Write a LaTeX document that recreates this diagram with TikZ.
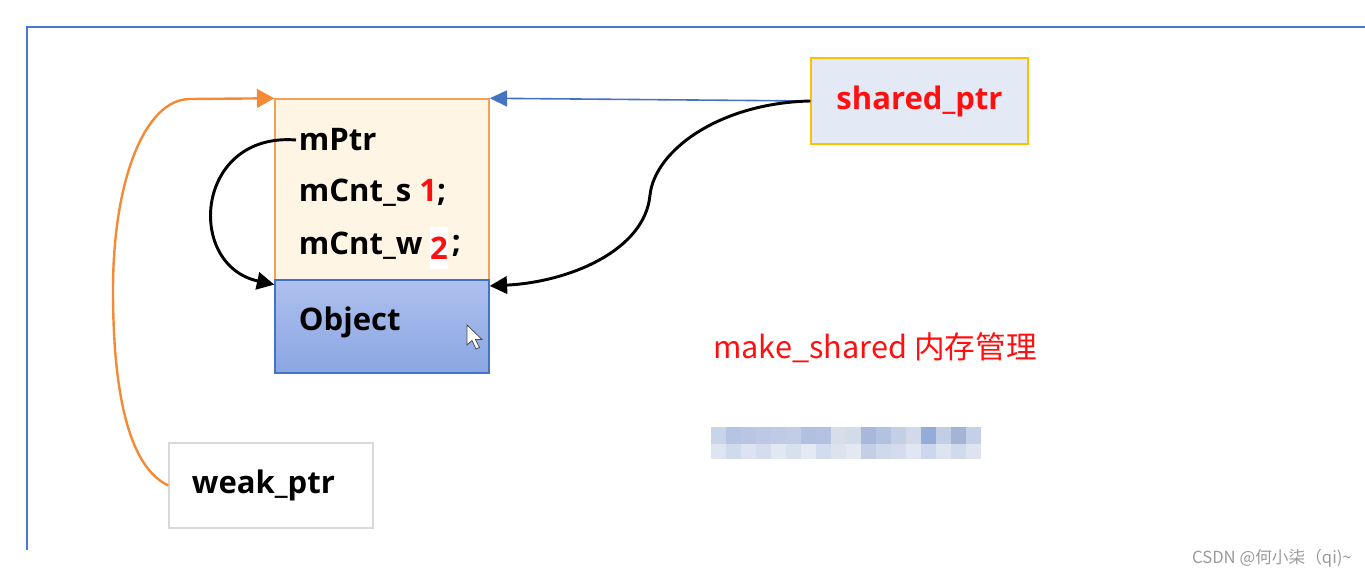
\documentclass[tikz,border=0pt]{standalone}
\usepackage{fontspec}
\setmainfont{Open Sans}
\newfontfamily\cjk{Noto Sans CJK SC}
\usetikzlibrary{arrows.meta}
\definecolor{frameblue}{HTML}{4A78D0}
\definecolor{arrblue}{HTML}{4472C4}
\definecolor{orng}{HTML}{F58A36}
\definecolor{ctrlfill}{HTML}{FFF5E5}
\definecolor{ctrldraw}{HTML}{F5A055}
\definecolor{objtop}{HTML}{AEC0EE}
\definecolor{objbot}{HTML}{8AA6E2}
\definecolor{shfill}{HTML}{E4EAF5}
\definecolor{shdraw}{HTML}{FFC000}
\definecolor{txtred}{HTML}{FF1010}
\definecolor{weakdraw}{HTML}{D9D9D9}
\definecolor{wmgray}{HTML}{9A9A9A}
\tikzset{
  boxbase/.style={draw, line width=1.1pt, inner sep=0pt},
  lbl/.style={font=\bfseries\fontsize{23.3}{28}\selectfont, inner sep=2pt, anchor=west},
  blackarr/.style={draw=black, line width=2.2pt, -{Triangle[length=13pt,width=13pt]}}
}
\begin{document}
\begin{tikzpicture}[x=0.75pt,y=-0.75pt]
\useasboundingbox (0,0) rectangle (1365,578);
% frame
\draw[frameblue, line width=1.6pt] (27,550) -- (27,27) -- (1365,27);
% control block
\node[boxbase, draw=ctrldraw, fill=ctrlfill, minimum width=160.5pt, minimum height=135.75pt] (ctrl) at (382,189.5) {};
\node[boxbase, draw=arrblue, top color=objtop, bottom color=objbot, minimum width=160.5pt, minimum height=69.75pt] (obj) at (382,326.5) {};
\node[lbl] (mptr) at (296,140) {mPtr};
\node[lbl] (mcnts) at (296,193) {mCnt\_s \textcolor{txtred}{1};};
\node[lbl] (mcntw) at (296,246) {mCnt\_w};
\node[fill=white, minimum width=14pt, minimum height=31pt, inner sep=0pt, text=txtred, font=\bfseries\fontsize{23.3}{28}\selectfont] (two) at (439,248) {2};
\node[lbl] (semi) at (449,246) {;};
\node[lbl] (objlbl) at (296,322) {Object};
% cursor
\filldraw[fill=white, draw=black!70, line width=0.6pt] (467,325) -- (467,345) -- (472,340.5) -- (476,349) -- (479.5,347.5) -- (475.5,339.5) -- (482,339.5) -- cycle;
% shared_ptr
\node[boxbase, draw=shdraw, fill=shfill, minimum width=162.75pt, minimum height=64.5pt, text=txtred, font=\bfseries\fontsize{23.3}{28}\selectfont] (shared) at (919.5,101) {shared\_ptr};
% weak_ptr
\node[boxbase, draw=weakdraw, fill=white, minimum width=153pt, minimum height=63.75pt] (weak) at (271,485.5) {};
\node[lbl] (weaklbl) at (189,485) {weak\_ptr};
% caption
\node[text=txtred, font=\cjk\fontsize{23}{28}\selectfont, anchor=west, inner sep=0pt] (cap) at (713,348) {make\_shared 内存管理};
% mosaic
\foreach \c [count=\i from 0] in {C8D4E8,B4C4E2,B8C6E4,BCC8E6,BFCBE6,C2CCE6,B0C0E0,B4C2E2,D8DEE9,D2DBE9,A8B8DA,B4C2E2,C4CFE6,D2D9E9,94ACD8,C2CDE6,A4B4D4,C4D0E6}{
  \definecolor{mc}{HTML}{\c}
  \fill[mc] (711+15*\i,427) rectangle (726+15*\i,444);
}
\foreach \c [count=\i from 0] in {DFE5F0,D0DAEA,DDE3F0,D4DCEE,E2E8F2,D8E0EE,E4E9F2,D2DCEE,DCE2EE,E4E8F0,C4CEE6,D0D9EC,D4DCEE,E0E6F2,CCD6EC,DDE4F0,D0DAEC,DDE4F0}{
  \definecolor{mc}{HTML}{\c}
  \fill[mc] (711+15*\i,444) rectangle (726+15*\i,459);
}
% watermark
\node[text=wmgray, font=\cjk\fontsize{12.5}{15}\selectfont, anchor=east, inner sep=0pt] (wm) at (1352,558) {CSDN @何小柒（qi)\textasciitilde};
% connectors
\draw[arrblue, line width=1.2pt, -{Triangle[length=13pt,width=12pt]}] (shared.west) -- (ctrl.north east);
\draw[blackarr] (shared.west) .. controls (720,103) and (655,150) .. (650,195) .. controls (645,250) and (570,282) .. ([yshift=-5pt]obj.north east);
\draw[blackarr] (mptr.west) .. controls (195,132) and (185,265) .. ([yshift=-4pt]obj.north west);
\draw[orng, line width=1.8pt, -{Triangle[length=13pt,width=14pt]}] (weak.west) .. controls (125,465) and (113,380) .. (113,290) .. controls (113,180) and (145,99) .. (190,99) -- (ctrl.north west);
\end{tikzpicture}
\end{document}
